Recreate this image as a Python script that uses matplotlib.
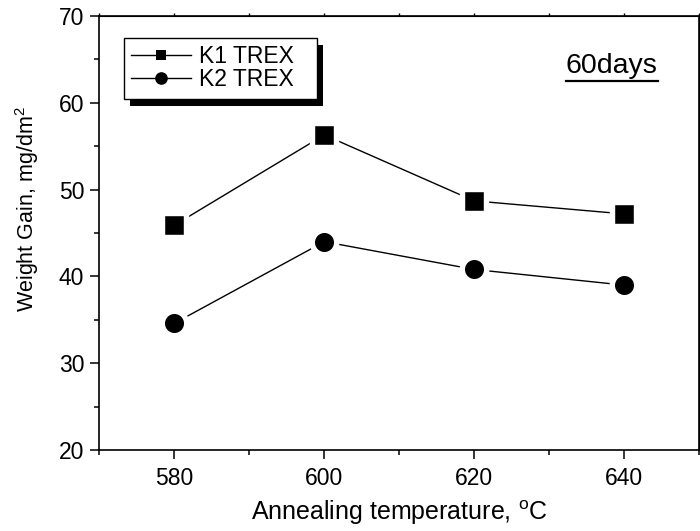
"""Weight gain vs annealing temperature, 60 days."""
import matplotlib

matplotlib.use("Agg")
import matplotlib.pyplot as plt
from matplotlib.lines import Line2D
from matplotlib.patches import Rectangle
from matplotlib.ticker import MultipleLocator
from matplotlib.transforms import IdentityTransform

# data
temperature = [580, 600, 620, 640]
k1_trex = [45.9, 56.3, 48.7, 47.2]
k2_trex = [34.6, 44.0, 40.8, 39.0]
series_names = ["K1 TREX", "K2 TREX"]

plt.rcParams["font.family"] = ["Liberation Sans", "DejaVu Sans"]
plt.rcParams["mathtext.fontset"] = "custom"
plt.rcParams["mathtext.rm"] = "Liberation Sans"

fig = plt.figure(figsize=(7.0, 5.31), dpi=100)
ax = fig.add_axes([0.142, 0.1525, 0.8566, 0.8174])

line_kw = dict(color="black", lw=1.0, markeredgecolor="white", markeredgewidth=3.9)
ax.plot(temperature, k1_trex, marker="s", ms=16.6, **line_kw)
ax.plot(temperature, k2_trex, marker="o", ms=17.6, **line_kw)

ax.set_xlim(570, 650)
ax.set_ylim(20, 70)
ax.xaxis.set_major_locator(MultipleLocator(20))
ax.xaxis.set_minor_locator(MultipleLocator(10))
ax.yaxis.set_major_locator(MultipleLocator(10))
ax.yaxis.set_minor_locator(MultipleLocator(5))

for sp in ax.spines.values():
    sp.set_linewidth(1.2)
ax.tick_params(which="major", direction="out", length=6.5, width=1.1,
               labelsize=16.5, pad=4.5)
ax.tick_params(which="minor", direction="out", length=3.6, width=1.1)
ax.tick_params(axis="x", which="major", pad=6)

# small ticks on top and right, no labels
top = ax.secondary_xaxis("top")
top.xaxis.set_major_locator(MultipleLocator(10))
top.tick_params(length=2, width=1.0, labeltop=False)
right = ax.secondary_yaxis("right")
right.yaxis.set_major_locator(MultipleLocator(5))
right.tick_params(length=2, width=1.0, labelright=False)

ax.set_xlabel("Annealing temperature, $^{\\mathrm{o}}$C", fontsize=18, labelpad=6)
ax.set_ylabel("Weight Gain, mg/dm$^{\\mathrm{2}}$", fontsize=15.5)
ax.yaxis.set_label_coords(-0.097, 0.555)

handles = [
    Line2D([], [], color="black", lw=1.0, marker="s", ms=7.7, mew=0),
    Line2D([], [], color="black", lw=1.0, marker="o", ms=9.1, mew=0),
]
leg = ax.legend(handles, series_names, loc="upper left", mode="expand",
                bbox_to_anchor=(0.041, 0.5, 0.322, 0.449), borderaxespad=0,
                fontsize=16.5, frameon=True, fancybox=False, framealpha=1,
                facecolor="white", edgecolor="black",
                handlelength=2.6, handletextpad=0.36, labelspacing=0.0,
                borderpad=0.32)
leg.get_frame().set_linewidth(1.0)

days = ax.text(0.778, 0.869, "60days", transform=ax.transAxes,
               fontsize=20.5, ha="left", va="baseline")

fig.canvas.draw()
renderer = fig.canvas.get_renderer()

# legend drop shadow, drawn just under the legend box
bb = leg.get_frame().get_window_extent(renderer)
shadow = Rectangle((bb.x0 + 6, bb.y0 - 7), bb.width, bb.height,
                   transform=IdentityTransform(), facecolor="black",
                   edgecolor="none", zorder=4.9, clip_on=False)
ax.add_artist(shadow)

# underline for the label
tb = days.get_window_extent(renderer)
fig.add_artist(Line2D([tb.x0, tb.x1], [tb.y0 - 2.5, tb.y0 - 2.5],
                      transform=IdentityTransform(), color="black", lw=1.6))

fig.savefig("out.png", dpi=100)
